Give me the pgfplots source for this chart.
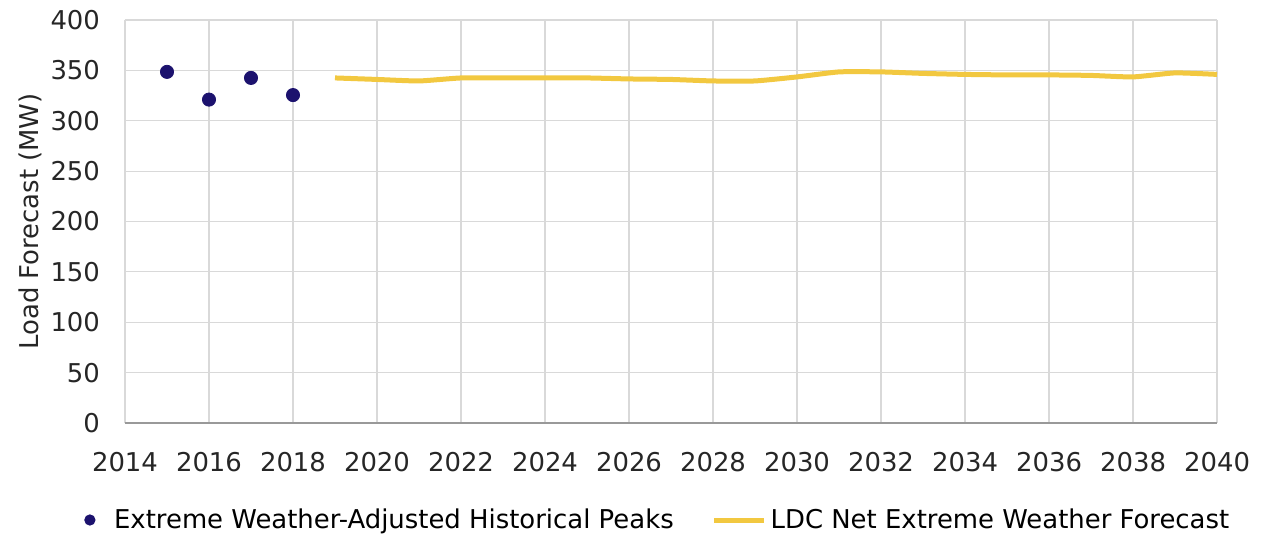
\documentclass[border=0pt]{standalone}
\usepackage{pgfplots}
\pgfplotsset{compat=1.18}
\usepackage{fontspec}
\setmainfont{DejaVu Sans}
\definecolor{dotc}{RGB}{28,18,110}
\definecolor{linec}{RGB}{242,200,64}
\definecolor{gridc}{RGB}{217,217,217}
\begin{document}
\begin{tikzpicture}
\begin{axis}[
  scale only axis,
  width=546bp, height=201.5bp,
  at={(0,0)}, anchor=south west,
  xmin=2014, xmax=2040, ymin=0, ymax=400,
  xtick={2014,2016,...,2040}, ytick={0,50,...,400},
  /pgf/number format/1000 sep={},
  /pgf/number format/assume math mode=true,
  tick label style={font=\fontsize{13}{15}\selectfont, color=black!85},
  xticklabel style={yshift=-11bp},
  yticklabel style={xshift=-9bp},
  major tick length=0pt,
  grid=major,
  major grid style={gridc, line width=0.6bp},
  axis line style={draw=none},
  ylabel={Load Forecast (MW)},
  ylabel style={font=\fontsize{13}{15}\selectfont, color=black!85, at={(axis description cs:-0.087,0.5)}, anchor=center},
  legend style={draw=none, at={(0.489,0)}, anchor=center, yshift=-48.5bp, legend columns=2, font=\fontsize{13}{15}\selectfont, /tikz/every even column/.append style={column sep=17bp}},
  legend cell align=left,
]
\draw[black!40, line width=0.7bp] (axis cs:2014,0) -- (axis cs:2040,0);
\addplot[only marks, mark=*, mark size=3.3bp, dotc, legend image code/.code={\draw[mark=*, mark size=2.6bp, mark options={fill=dotc, draw=dotc}] plot coordinates {(0.15cm,0cm)}; \path (0.5cm,0) circle (0pt);}] coordinates {
(2015,348.5) (2016,321) (2017,342.5) (2018,325.5)
};
\addlegendentry{Extreme Weather-Adjusted Historical Peaks}
\addplot[linec, line width=2.5bp, smooth, tension=0.3, mark=none, legend image code/.code={\draw[linec, line width=2.5bp] (0cm,0cm) -- (25bp,0cm);}] coordinates {
(2019,342.5) (2020,341) (2021,339.5) (2022,342.5) (2023,342.5) (2024,342.5) (2025,342.5) (2026,341.5) (2027,341) (2028,339.5) (2029,339.5) (2030,343.5) (2031,348.5) (2032,348.5) (2033,347) (2034,346) (2035,345.5) (2036,345.5) (2037,345) (2038,343.5) (2039,347.5) (2040,346)
};
\addlegendentry{LDC Net Extreme Weather Forecast}
\end{axis}
\pgfresetboundingbox
\path (-62.5bp,-57bp) rectangle (570.5bp,211.5bp);
\end{tikzpicture}
\end{document}
